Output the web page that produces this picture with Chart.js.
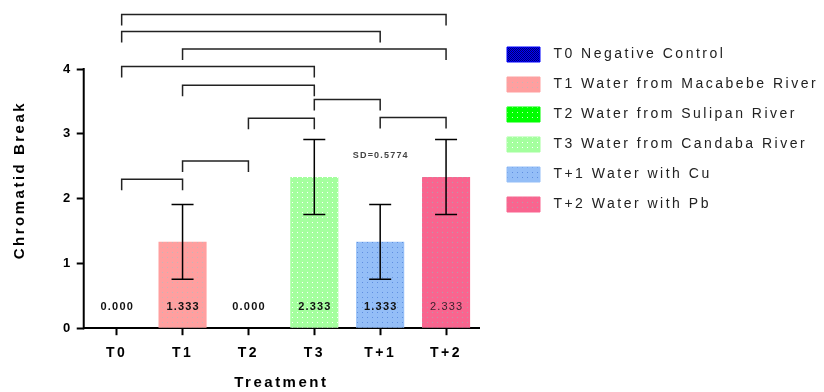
<!DOCTYPE html>
<html>
<head>
<meta charset="utf-8">
<script src="https://cdn.jsdelivr.net/npm/chart.js@4.4.1/dist/chart.umd.min.js"></script>
<style>
  html, body { margin: 0; padding: 0; background: #fff; }
  #wrap { width: 824px; height: 392px; }
</style>
</head>
<body>
<div id="wrap"><canvas id="myChart"></canvas></div>
<script>
const groups = ["T0", "T1", "T2", "T3", "T+1", "T+2"];
const legendNames = ["T0 Negative Control", "T1 Water from Macabebe River", "T2 Water from Sulipan River",
  "T3 Water from Candaba River", "T+1 Water with Cu", "T+2 Water with Pb"];
const means = [0, 1.333, 0, 2.333, 1.333, 2.333];
const sds = [0, 0.5774, 0, 0.5774, 0.5774, 0.5774];
const yTicks = [0, 1, 2, 3, 4];
const barColors = ["#0000ff", "#ff9f9f", "#00ff00", "#a4ff9e", "#94bef7", "#f9658f"];
const dotColors = ["#000066", "#c8b4b4", "#c8ffc8", "#ffffff", "#5f8fe0", "#b89aa8"];

// significance brackets: left group, right group, height (chromatid breaks)
const bracketFrom  = [0, 0, 1, 0, 1, 3, 2, 4, 1, 0];
const bracketTo    = [5, 4, 5, 3, 3, 4, 3, 5, 2, 1];
const bracketLevel = [4.84, 4.58, 4.31, 4.04, 3.75, 3.53, 3.24, 3.25, 2.58, 2.30];

const FONT = "'Liberation Sans', Arial, sans-serif";

function dotted(base, dot, checker) {
  const c = document.createElement("canvas");
  c.width = checker ? 2 : 5;
  c.height = checker ? 2 : 5;
  const g = c.getContext("2d");
  g.fillStyle = base;
  g.fillRect(0, 0, c.width, c.height);
  g.fillStyle = dot;
  if (checker) { g.fillRect(0, 0, 1, 1); g.fillRect(1, 1, 1, 1); }
  else g.fillRect(2, 2, 1, 1);
  return g.createPattern(c, "repeat");
}
const patterns = barColors.map((c, i) => dotted(c, dotColors[i], i === 0));

const spacing = {
  id: "spacing",
  beforeLayout(chart) { chart.ctx.letterSpacing = "2.5px"; },
  beforeDraw(chart) { chart.ctx.letterSpacing = "2.5px"; }
};

const extras = {
  id: "extras",
  afterDraw(chart) {
    const ctx = chart.ctx;
    const x = chart.scales.x, y = chart.scales.y;
    const meta = chart.getDatasetMeta(0);
    ctx.save();

    // y axis line, only up to the last tick
    ctx.strokeStyle = "#000";
    ctx.lineWidth = 2;
    ctx.beginPath();
    ctx.moveTo(chart.chartArea.left, y.getPixelForValue(0) + 1);
    ctx.lineTo(chart.chartArea.left, y.getPixelForValue(yTicks[yTicks.length - 1]) - 1);
    ctx.stroke();

    // error bars
    ctx.lineWidth = 1.5;
    means.forEach((m, i) => {
      if (!sds[i]) return;
      const cx = meta.data[i].x;
      const hi = y.getPixelForValue(m + sds[i]);
      const lo = y.getPixelForValue(m - sds[i]);
      ctx.beginPath();
      ctx.moveTo(cx, hi); ctx.lineTo(cx, lo);
      ctx.moveTo(cx - 11, hi); ctx.lineTo(cx + 11, hi);
      ctx.moveTo(cx - 11, lo); ctx.lineTo(cx + 11, lo);
      ctx.stroke();
    });

    // value labels inside the bars
    ctx.letterSpacing = "1.2px";
    ctx.textAlign = "center";
    ctx.textBaseline = "middle";
    const base = y.getPixelForValue(0);
    means.forEach((m, i) => {
      ctx.font = (i === 5 ? "" : "bold ") + "11px " + FONT;
      ctx.fillStyle = i === 5 ? "#3a1d2a" : "#111";
      ctx.fillText(m.toFixed(3), meta.data[i].x + 0.6, base - 21);
    });

    // SD note
    ctx.font = "bold 9px " + FONT;
    ctx.fillStyle = "#444";
    ctx.fillText("SD=" + sds[4], x.getPixelForValue(4) + 0.6, y.getPixelForValue(2.67));

    // significance brackets
    ctx.strokeStyle = "#222";
    ctx.lineWidth = 1.5;
    bracketLevel.forEach((lv, k) => {
      const x1 = x.getPixelForValue(bracketFrom[k]) + (bracketFrom[k] === 0 ? 5 : 0);
      const x2 = x.getPixelForValue(bracketTo[k]);
      const yt = y.getPixelForValue(lv);
      const yb = y.getPixelForValue(lv - 0.17);
      ctx.beginPath();
      ctx.moveTo(x1, yb); ctx.lineTo(x1, yt); ctx.lineTo(x2, yt); ctx.lineTo(x2, yb);
      ctx.stroke();
    });
    ctx.restore();
  }
};

new Chart("myChart", {
  type: "bar",
  data: {
    labels: groups,
    datasets: [{
      data: means,
      backgroundColor: patterns,
      borderWidth: 0,
      categoryPercentage: 1,
      barPercentage: 0.73
    }]
  },
  options: {
    responsive: true,
    maintainAspectRatio: false,
    animation: false,
    events: [],
    layout: { padding: { top: 32, left: 7, right: 0, bottom: 0 } },
    scales: {
      x: {
        grid: { display: true, drawOnChartArea: false, offset: false, tickLength: 7, tickWidth: 2, tickColor: "#000" },
        border: { display: true, color: "#000", width: 2 },
        ticks: { color: "#000", font: { family: FONT, size: 14, weight: "bold" }, padding: 10, autoSkip: false, maxRotation: 0 },
        title: { display: true, text: "Treatment", color: "#000", font: { family: FONT, size: 15, weight: "bold" }, padding: { top: 2, bottom: 0 } }
      },
      y: {
        min: 0,
        max: 4.571,
        afterBuildTicks(scale) { scale.ticks = yTicks.map(v => ({ value: v })); },
        grid: { display: true, drawOnChartArea: false, tickLength: 7, tickWidth: 2, tickColor: "#000" },
        border: { display: false },
        ticks: { color: "#000", font: { family: FONT, size: 13, weight: "bold" }, padding: 4 },
        title: { display: true, text: "Chromatid Break", color: "#000", font: { family: FONT, size: 15, weight: "bold" }, padding: { top: 4, bottom: 30 } }
      },
      gap: {
        type: "linear",
        position: "right",
        display: true,
        grid: { display: false },
        border: { display: false },
        ticks: { display: false },
        afterFit(scale) { scale.width = 13; }
      }
    },
    plugins: {
      legend: {
        position: "right",
        align: "start",
        maxWidth: 332,
        labels: {
          boxWidth: 33,
          boxHeight: 15,
          padding: 15,
          color: "#222",
          font: { family: FONT, size: 14 },
          generateLabels: () => legendNames.map((t, i) => ({
            text: " " + t, fillStyle: patterns[i], strokeStyle: barColors[i], lineWidth: 1, hidden: false, index: i, fontColor: "#222"
          }))
        }
      },
      tooltip: { enabled: false }
    }
  },
  plugins: [spacing, extras]
});
</script>
</body>
</html>
